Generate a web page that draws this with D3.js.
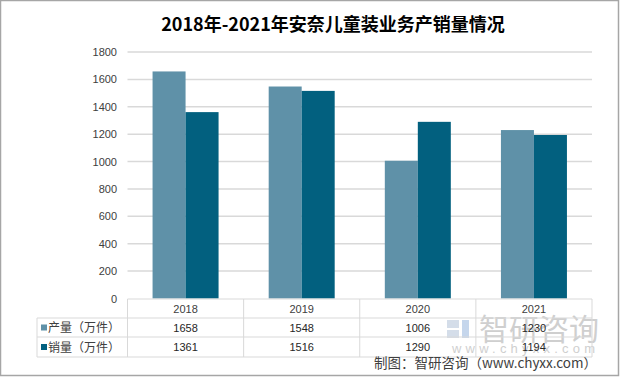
<!DOCTYPE html>
<html>
<head>
<meta charset="utf-8">
<script src="https://cdn.jsdelivr.net/npm/d3@7"></script>
<style>
body { margin: 0; background: #fff; }
svg { display: block; }
</style>
</head>
<body>
<div id="chart"></div>
<script>
// data
const years = ['2018', '2019', '2020', '2021'];
const seriesNames = ['产量（万件）', '销量（万件）'];
const production = [1658, 1548, 1006, 1230];
const sales = [1361, 1516, 1290, 1194];
const yTicks = [0, 200, 400, 600, 800, 1000, 1200, 1400, 1600, 1800];
const colors = ['#5f91a8', '#02607f'];

const W = 620, H = 377;
const svg = d3.select('#chart').append('svg').attr('width', W).attr('height', H);
const numFont = '"Liberation Sans", Arial, sans-serif';
const cjkFont = '"Noto Sans CJK SC", "Noto Sans", sans-serif';

// border
svg.append('rect').attr('x', 0.5).attr('y', 0.5).attr('width', W - 2).attr('height', H - 2)
	.attr('fill', '#fff').attr('stroke', '#a6a6a6').attr('stroke-width', 1.5);

// title
svg.append('text').attr('x', 333).attr('y', 31).attr('text-anchor', 'middle')
	.style('font-family', cjkFont).style('font-size', '18px').style('font-weight', 'bold')
	.attr('fill', '#000').text('2018年-2021年安奈儿童装业务产销量情况');

// scales
const plotLeft = 127.5, plotRight = 592, plotBase = 298.5, plotTop = 52;
const x = d3.scaleBand().domain(years).range([plotLeft, plotRight]);
const y = d3.scaleLinear().domain([0, 1800]).range([plotBase, plotTop]);
const x1 = d3.scaleBand().domain([0, 1]).range([0, 66]);

// grid
svg.append('g').selectAll('line').data(yTicks.slice(1)).join('line')
	.attr('x1', plotLeft).attr('x2', plotRight)
	.attr('y1', d => y(d)).attr('y2', d => y(d))
	.attr('stroke', '#d9d9d9').attr('stroke-width', 1.5);

// y axis labels
svg.append('g').selectAll('text').data(yTicks).join('text')
	.attr('x', 117).attr('y', d => y(d) + 4).attr('text-anchor', 'end')
	.style('font-family', numFont).style('font-size', '11px').attr('fill', '#404040')
	.text(d => d);

// bars
const series = [production, sales];
const groups = svg.append('g').selectAll('g').data(series).join('g')
	.attr('fill', (d, i) => colors[i]);
groups.each(function(vals, si) {
	d3.select(this).selectAll('rect').data(vals).join('rect')
		.attr('x', (d, i) => x(years[i]) + x.bandwidth() / 2 - 33 + x1(si))
		.attr('width', x1.bandwidth())
		.attr('y', d => y(d))
		.attr('height', d => plotBase - y(d));
});

// watermark
const wm = svg.append('g').attr('opacity', 0.6);
wm.append('rect').attr('x', 447).attr('y', 320).attr('width', 12).attr('height', 8).attr('fill', '#b8c8dc');
wm.append('rect').attr('x', 447).attr('y', 330).attr('width', 12).attr('height', 8).attr('fill', '#b8c8dc');
wm.append('rect').attr('x', 462).attr('y', 320).attr('width', 7).attr('height', 18).attr('fill', '#9fbbe0');
wm.append('text').attr('x', 479).attr('y', 340)
	.style('font-family', cjkFont).style('font-size', '30px').attr('fill', '#b0b0b0')
	.text('智研咨询');
wm.append('text').attr('x', 452).attr('y', 353)
	.attr('textLength', 143).attr('lengthAdjust', 'spacing')
	.style('font-family', numFont).style('font-size', '13px')
	.attr('fill', '#b0b0b0').text('www.chyxx.com');

// data table
const tLeft = 37, rows = [299, 318, 337, 357];
const tbl = svg.append('g').attr('stroke', '#d9d9d9').attr('stroke-width', 1);
tbl.append('line').attr('x1', plotLeft).attr('x2', plotRight).attr('y1', rows[0]).attr('y2', rows[0]);
rows.slice(1).forEach(r => {
	tbl.append('line').attr('x1', tLeft).attr('x2', plotRight).attr('y1', r).attr('y2', r);
});
tbl.append('line').attr('x1', tLeft).attr('x2', tLeft).attr('y1', rows[1]).attr('y2', rows[3]);
const edges = years.map(d => x(d)).concat([plotRight]);
tbl.selectAll('line.v').data(edges).join('line').attr('class', 'v')
	.attr('x1', d => d).attr('x2', d => d).attr('y1', rows[0]).attr('y2', rows[3]);

// year labels
svg.append('g').selectAll('text').data(years).join('text')
	.attr('x', d => x(d) + x.bandwidth() / 2).attr('y', 313).attr('text-anchor', 'middle')
	.style('font-family', numFont).style('font-size', '11px').attr('fill', '#404040')
	.text(d => d);

// series rows
series.forEach((vals, si) => {
	const cy = (rows[si + 1] + rows[si + 2]) / 2;
	svg.append('rect').attr('x', 41).attr('y', cy - 3).attr('width', 6).attr('height', 6).attr('fill', colors[si]);
	svg.append('text').attr('x', 48).attr('y', cy + 4.5)
		.style('font-family', cjkFont).style('font-size', '12px').attr('fill', '#404040')
		.text(seriesNames[si]);
	svg.append('g').selectAll('text').data(vals).join('text')
		.attr('x', (d, i) => x(years[i]) + x.bandwidth() / 2).attr('y', cy + 4).attr('text-anchor', 'middle')
		.style('font-family', numFont).style('font-size', '11px').attr('fill', '#262626')
		.text(d => d);
});

// source
svg.append('text').attr('x', 597).attr('y', 368).attr('text-anchor', 'end')
	.style('font-family', cjkFont).style('font-size', '13.5px').attr('fill', '#404040')
	.text('制图：智研咨询（www.chyxx.com）');
</script>
</body>
</html>
